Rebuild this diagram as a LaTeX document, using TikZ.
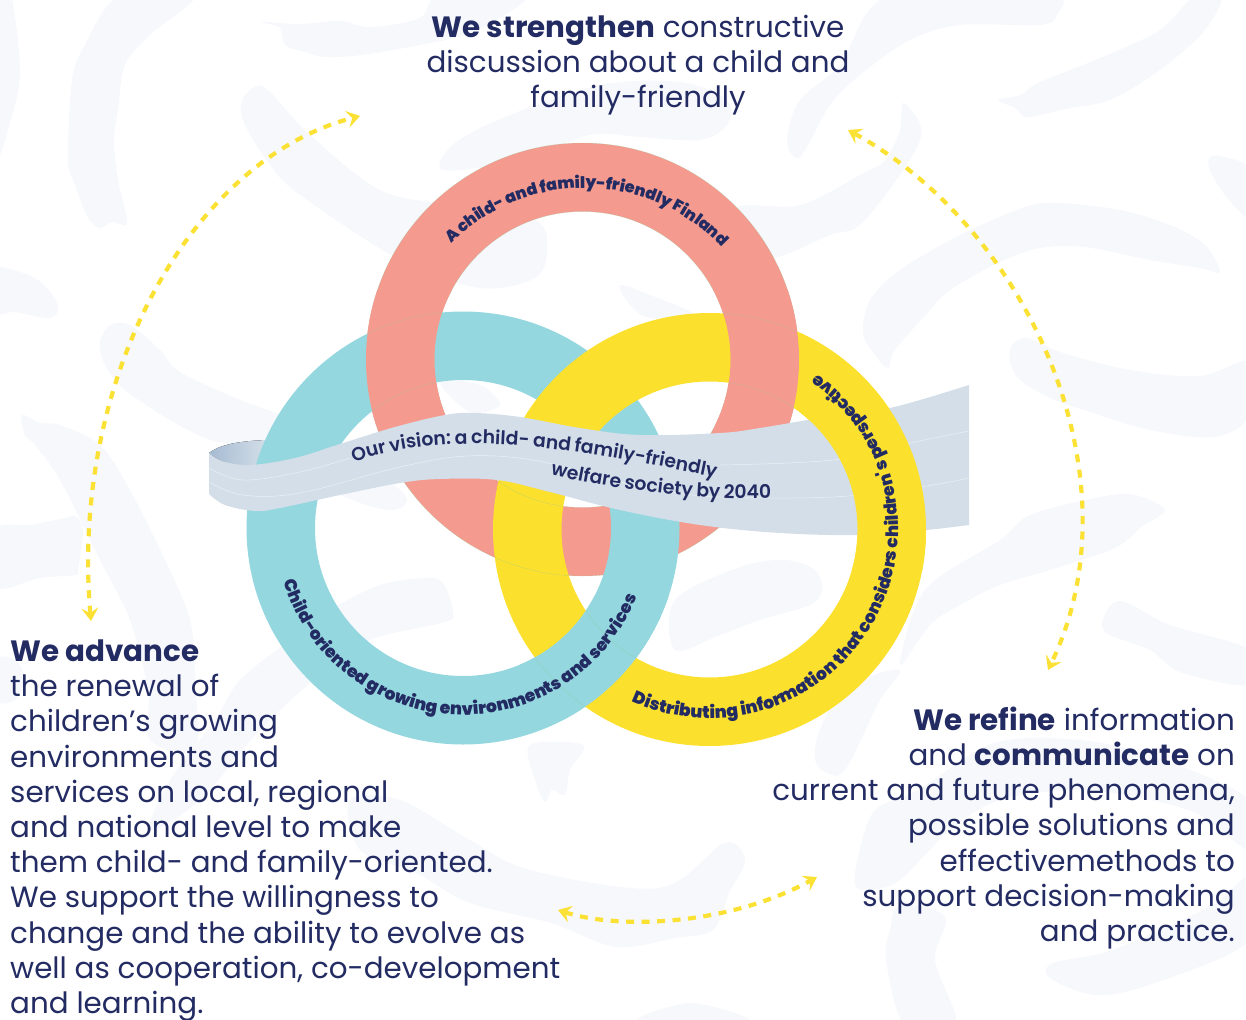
\documentclass[tikz,border=0pt]{standalone}
\usepackage{fontspec}
\usetikzlibrary{arrows.meta,decorations.text}
\setmainfont{Poppins}
\newfontfamily\ringf{Poppins Black}
\newfontfamily\ribf[WordSpace=0.8]{Poppins SemiBold}
\definecolor{navy}{HTML}{232B63}
\definecolor{ringred}{HTML}{F59A8E}
\definecolor{ringteal}{HTML}{94D7DF}
\definecolor{ringyel}{HTML}{FCE02E}
\definecolor{ribbon}{HTML}{D3DEE8}
\definecolor{ribdark}{HTML}{A6BBD2}
\definecolor{brushc}{HTML}{F6F8FC}
\definecolor{arrowy}{HTML}{FCE135}
\tikzset{
  brush/.style={fill=brushc,draw=none},
  annulus/.style={even odd rule,draw=none},
  hair/.style={draw=black!55!green!40,draw opacity=.45,line width=.4pt},
  ribline/.style={draw=white,draw opacity=.55,line width=.5pt},
  body/.style={inner sep=0pt,text=navy,font=\fontsize{29.35}{35.2}\selectfont},
  flow/.style={draw=arrowy,line width=4.2pt,dash pattern=on 8pt off 7.5pt,
     {Stealth[length=13pt,width=17pt,inset=5pt]}-{Stealth[length=13pt,width=17pt,inset=5pt]}},
  declare function={bez(\t,\a,\b,\c,\d)=(1-\t)*(1-\t)*(1-\t)*\a+3*(1-\t)*(1-\t)*\t*\b+3*(1-\t)*\t*\t*\c+\t*\t*\t*\d;},
}
\newcommand{\bstroke}[1]{\fill[brush] plot[smooth cycle,tension=.55] coordinates {#1};}
\newcommand{\ringpath}[3]{(#1,#2) circle (216.5pt) (#1,#2) circle (#3pt)}
\begin{document}
\begin{tikzpicture}[x=1pt,y=-1pt]
\useasboundingbox (0,0) rectangle (1246,1019);
% background brush strokes
\bstroke{(-5,-10)(11,-5)(20,70)(12,115)(-5,155)}
\bstroke{(120,-5)(195,-5)(150,35)(125,65)(118,110)(114,140)(118,180)(127,223)(112,222)(100,228)(88,218)(75,185)(68,160)(72,80)(85,45)}
\bstroke{(257,86)(270,92)(310,135)(380,190)(450,205)(535,220)(547,250)(535,278)(480,288)(400,260)(300,195)(270,165)(245,125)(242,100)}
\bstroke{(262,22)(280,28)(285,45)(305,52)(325,57)(362,55)(420,45)(465,35)(500,18)(525,-5)(440,-5)(420,18)(370,27)(340,21)(300,24)}
\bstroke{(443,170)(455,143)(510,115)(600,85)(680,82)(727,100)(727,125)(700,140)(640,137)(590,135)(520,160)}
\bstroke{(890,-5)(1050,-5)(1057,15)(1040,25)(960,25)(910,40)(860,75)(830,105)(800,157)(787,140)(800,100)(840,65)}
\bstroke{(998,100)(1020,95)(1040,82)(1100,58)(1160,30)(1195,-5)(1222,-5)(1205,30)(1160,70)(1110,100)(1070,108)(1040,115)(1025,117)(1015,108)}
\bstroke{(903,103)(919,122)(920,140)(900,175)(860,225)(830,235)(777,257)(745,250)(735,208)(800,205)(860,175)(885,160)(900,130)}
\bstroke{(620,285)(650,295)(695,315)(650,318)(630,305)}
\bstroke{(863,333)(870,300)(900,270)(960,235)(1025,207)(1060,203)(1120,210)(1170,225)(1205,245)(1220,272)(1200,268)(1150,260)(1085,247)(1040,248)(1000,262)(950,290)(930,310)(895,350)(888,368)(875,355)}
\bstroke{(1012,345)(1028,338)(1060,352)(1130,370)(1200,376)(1250,362)(1250,415)(1215,437)(1150,430)(1090,412)(1050,398)(1020,380)(1010,362)}
\bstroke{(1210,157)(1210,170)(1225,195)(1250,218)(1250,170)(1225,157)}
\bstroke{(900,665)(925,590)(1000,540)(1030,515)(1100,497)(1135,495)(1165,510)(1141,527)(1115,548)(1050,570)(1000,585)(960,605)(930,625)}
\bstroke{(900,670)(880,700)(845,770)(825,772)(815,760)(818,735)(835,700)(860,680)}
\bstroke{(675,600)(740,567)(785,560)(815,570)(822,590)(810,605)(760,620)(720,635)(675,650)}
\bstroke{(530,745)(583,745)(570,770)(565,795)(552,790)(545,802)(535,780)}
\bstroke{(1120,601)(1170,625)(1250,650)(1250,685)(1180,672)(1150,650)(1110,635)(1102,622)}
\bstroke{(400,800)(470,840)(530,870)(659,888)(724,843)(745,860)(729,893)(713,930)(675,938)(616,947)(551,923)(470,903)(416,873)(360,850)(350,800)}
\bstroke{(453,612)(443,583)(425,578)(380,585)(330,610)(290,640)(240,680)(215,720)(170,780)(150,830)(200,800)(260,730)(320,675)(370,640)(445,622)}
\bstroke{(100,343)(110,325)(130,325)(160,350)(180,372)(240,400)(280,415)(345,450)(405,495)(390,510)(340,495)(250,450)(210,440)(170,420)(125,390)(105,365)}
\bstroke{(22,415)(40,423)(60,425)(100,445)(130,490)(165,560)(190,620)(195,680)(195,750)(150,740)(148,690)(130,620)(100,560)(60,480)(35,445)(25,435)}
\bstroke{(-5,530)(30,525)(65,518)(75,516)(83,530)(78,570)(75,575)(40,578)(-5,587)}
\bstroke{(-5,270)(20,272)(42,283)(58,305)(50,318)(15,312)(-5,312)}
\bstroke{(-5,660)(15,660)(25,680)(15,700)(-5,700)}
\bstroke{(440,382)(480,385)(500,405)(470,412)}
\bstroke{(1250,877)(1209,907)(1112,950)(1053,963)(1050,978)(1096,995)(1155,983)(1250,940)}
\bstroke{(859,853)(875,810)(918,790)(994,743)(1080,740)(1155,757)(1250,800)(1250,850)(1200,815)(1150,800)(1080,790)(1000,800)(950,830)(900,880)(870,890)(855,885)}
\bstroke{(905,1025)(886,960)(890,930)(900,905)(945,917)(935,960)(956,1025)}
\bstroke{(637,1022)(691,1003)(750,1022)}
% ribbon back fold (under the rings)
\fill[left color=ribdark,right color=ribbon] (209,453) .. controls (222,443) and (245,441) .. (266,440) -- (258,468) .. controls (240,467) and (220,463) .. (209,453) -- cycle;
% rings, lowest first
\fill[ringred,annulus] \ringpath{582.5}{359.5}{148};
\draw[hair] (582.5,359.5) circle (216.5pt) (582.5,359.5) circle (148pt);
\fill[ringteal,annulus] \ringpath{463}{528}{148};
\fill[ringyel,annulus] \ringpath{709.5}{529.5}{148};
% interlacing patches
\begin{scope}
  \clip (340,290) rectangle (500,425);
  \fill[ringred,annulus] \ringpath{582.5}{359.5}{148};
\end{scope}
\begin{scope}
  \clip (700,290) rectangle (810,425);
  \fill[ringred,annulus] \ringpath{582.5}{359.5}{148};
\end{scope}
\begin{scope}
  \clip (520,596) rectangle (700,720);
  \fill[ringteal,annulus] \ringpath{463}{528}{148};
\end{scope}
% faint traces of the covered ring edges
\begin{scope}[even odd rule]
  \clip (340,290) rectangle (500,425);
  \clip \ringpath{582.5}{359.5}{148};
  \draw[hair] (463,528) circle (216.5pt) (463,528) circle (148pt);
\end{scope}
\begin{scope}[even odd rule]
  \clip (700,290) rectangle (810,425);
  \clip \ringpath{582.5}{359.5}{148};
  \draw[hair] (709.5,529.5) circle (216.5pt) (709.5,529.5) circle (148pt);
\end{scope}
\begin{scope}[even odd rule]
  \clip (480,480) rectangle (600,590);
  \clip \ringpath{709.5}{529.5}{148};
  \draw[hair] (582.5,359.5) circle (216.5pt) (582.5,359.5) circle (148pt);
\end{scope}
\begin{scope}[even odd rule]
  \clip (520,596) rectangle (700,720);
  \clip \ringpath{463}{528}{148};
  \draw[hair] (709.5,529.5) circle (216.5pt) (709.5,529.5) circle (148pt);
\end{scope}
% ribbon front
\fill[ribbon] plot[smooth,tension=.6] coordinates {(209,453)(222,461)(250,465)(295,458)(340,444)(395,427)(445,415)(475,413)(520,417)(580,428)(640,435)(720,433)(760,428)(820,418)(890,408)(969,385)}
  -- plot[smooth,tension=.6] coordinates {(969,525)(926,530)(860,535)(780,533)(700,525)(620,510)(550,492)(497,480)(440,479)(400,483)(340,495)(280,508)(255,511)(225,505)(209,494)} -- cycle;
\draw[ribline] plot[smooth,tension=.6] coordinates {(209,468)(243,480)(300,472)(350,458)};
\draw[ribline] plot[smooth,tension=.6] coordinates {(209,482)(243,495)(300,493)(400,467)(467,456)(533,460)(600,477)(660,490)(720,497)(833,497)(920,487)(969,478)};
\draw[ribline] plot[smooth,tension=.6] coordinates {(720,465)(833,460)(910,443)(969,431)};
% yellow passes in front of the ribbon on the right
\begin{scope}
  \clip (801,300) rectangle (940,570);
  \fill[ringyel,annulus] \ringpath{709.5}{529.5}{148};
\end{scope}
% ring labels
\path[decorate,decoration={text along path,text color=navy,text align={center},text={|\ringf\fontsize{16}{16}\selectfont|A child- and family-friendly Finland}}]
  plot[domain=149.35:29.35,samples=100] ({585+188*cos(\x)},{376-188*sin(\x)});
\path[decorate,decoration={text along path,text color=navy,text align={center},text={|\ringf\fontsize{17.2}{17.2}\selectfont|Child-oriented growing environments and services}}]
  plot[domain=182.55:352.55,samples=120] ({463+187*cos(\x)},{528-187*sin(\x)});
\path[decorate,decoration={text along path,text color=navy,text align={center},text={|\ringf\fontsize{17.2}{17.2}\selectfont|Distributing information that considers children's perspective}}]
  plot[domain=235.5:425.5,samples=140] ({709.5+189*cos(\x)},{529.5-189*sin(\x)});
% ribbon labels
\path[decorate,decoration={text along path,text color=navy,text align={center},text={|\ribf\fontsize{18.8}{18.8}\selectfont|Our vision: a child- and family-friendly}}]
  plot[domain=0:1,samples=90] ({bez(\x,315,430,530,757)},{bez(\x,478,425,438,486)});
\path[decorate,decoration={text along path,text color=navy,text align={center},text={|\ribf\fontsize{18.8}{18.8}\selectfont|welfare society by 2040}}]
  plot[domain=0:1,samples=70] ({bez(\x,512,600,720,811)},{bez(\x,465,490,505,496)});
% double-headed arrows
\coordinate (a1s) at (91,621); \coordinate (a1e) at (360,116);
\coordinate (a2s) at (848,130); \coordinate (a2e) at (1048,670);
\coordinate (a3s) at (558,910); \coordinate (a3e) at (817,877);
\draw[flow] (a1s) .. controls (70,380) and (190,160) .. (a1e);
\draw[flow] (a2s) .. controls (1030,230) and (1140,480) .. (a2e);
\draw[flow] (a3s) .. controls (620,930) and (730,925) .. (a3e);
% text blocks
\node[body,align=center,anchor=north] (top) at (638,14.5) {\textbf{We strengthen} constructive\\discussion about a child and\\family-friendly};
\node[body,align=left,anchor=north west] (left) at (10,639.5) {\textbf{We advance}\\the renewal of\\children’s growing\\environments and\\services on local, regional\\and national level to make\\them child- and family-oriented.\\We support the willingness to\\change and the ability to evolve as\\well as cooperation, co-development\\and learning.};
\node[body,align=right,anchor=north east] (right) at (1235,706.5) {\textbf{We refine} information\\and \textbf{communicate} on\\current and future phenomena,\\possible solutions and\\effectivemethods to\\support decision-making\\and practice.};
\end{tikzpicture}
\end{document}
